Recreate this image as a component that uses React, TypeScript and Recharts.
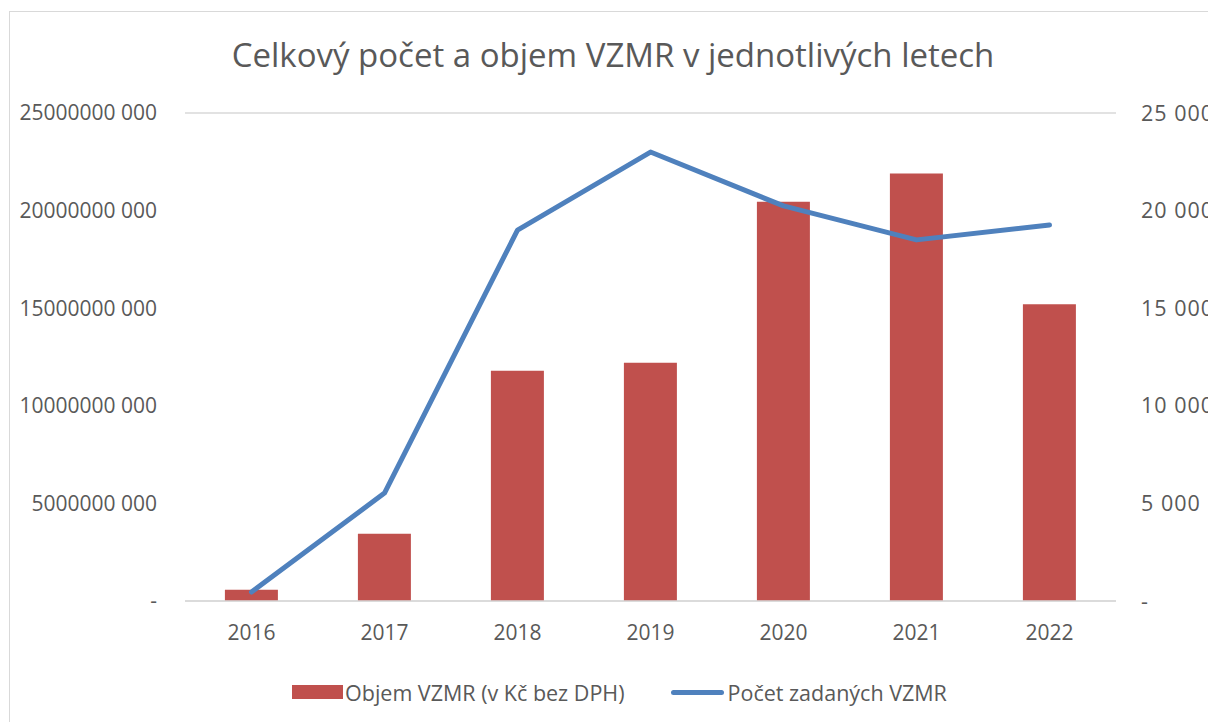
import {
  Bar,
  CartesianGrid,
  ComposedChart,
  Legend,
  Line,
  XAxis,
  YAxis,
} from 'recharts';

const years = ['2016', '2017', '2018', '2019', '2020', '2021', '2022'];
// objem VZMR v Kč bez DPH
const objem = [
  580000000, 3450000000, 11800000000, 12200000000, 20450000000, 21900000000,
  15200000000,
];
// počet zadaných VZMR
const pocet = [460, 5530, 19000, 23000, 20240, 18500, 19260];

const leftTicks = [0, 5000000000, 10000000000, 15000000000, 20000000000, 25000000000];
const rightTicks = [0, 5000, 10000, 15000, 20000, 25000];

const data = years.map((year, i) => ({
  year,
  objem: objem[i],
  pocet: pocet[i],
}));

const FONT = '"Open Sans", sans-serif';
const TEXT = '#595959';
const GRID = '#D9D9D9';
const RED = '#C0504D';
const BLUE = '#4F81BD';

const fmtLeft = (v: number) => (v === 0 ? '-' : `${Math.round(v / 1000)} 000`);
const fmtRight = (v: number) =>
  v === 0 ? '-' : `${Math.floor(v / 1000)} ${String(v % 1000).padStart(3, '0')}`;

const LegendContent = (props: any) => {
  const items = props.payload || [];
  return (
    <div
      style={{
        display: 'flex',
        alignItems: 'center',
        marginLeft: 292,
        fontFamily: FONT,
        fontSize: 21.5,
        color: TEXT,
        height: 24,
        whiteSpace: 'nowrap',
      }}
    >
      {items.map((it: any) => (
        <div
          key={it.value}
          style={{ display: 'flex', alignItems: 'center', marginRight: 46 }}
        >
          {it.type === 'line' ? (
            <span
              style={{
                display: 'inline-block',
                width: 53,
                height: 5,
                borderRadius: 3,
                background: BLUE,
                marginRight: 4,
              }}
            />
          ) : (
            <span
              style={{
                display: 'inline-block',
                width: 51,
                height: 14,
                background: RED,
                marginRight: 2,
              }}
            />
          )}
          <span>{it.value}</span>
        </div>
      ))}
    </div>
  );
};

export default function App() {
  return (
    <div
      style={{
        position: 'fixed',
        left: 0,
        top: 0,
        width: 1208,
        height: 722,
        overflow: 'hidden',
        background: '#fff',
      }}
    >
      <div
        style={{
          position: 'absolute',
          left: 9,
          top: 11,
          width: 1300,
          height: 800,
          border: `1px solid ${GRID}`,
        }}
      />
      <div
        style={{
          position: 'absolute',
          left: 0,
          width: 1226,
          top: 38,
          textAlign: 'center',
          fontFamily: FONT,
          fontSize: 33,
          lineHeight: '33px',
          color: TEXT,
          whiteSpace: 'nowrap',
        }}
      >
        Celkový počet a objem VZMR v jednotlivých letech
      </div>
      <div style={{ position: 'absolute', left: 0, top: 0 }}>
        <ComposedChart
          width={1208}
          height={722}
          data={data}
          margin={{ top: 113, right: 0, left: 0, bottom: 61 }}
          barCategoryGap="30%"
        >
          <CartesianGrid vertical={false} stroke={GRID} strokeWidth={1.3} />
          <XAxis
            dataKey="year"
            height={60}
            tickLine={false}
            axisLine={{ stroke: GRID, strokeWidth: 1.5 }}
            tickSize={0}
            tickMargin={24}
            tick={{ fill: TEXT, fontSize: 21, fontFamily: FONT }}
          />
          <YAxis
            yAxisId="left"
            orientation="left"
            width={185}
            domain={[0, 25000000000]}
            ticks={leftTicks}
            tickFormatter={fmtLeft}
            axisLine={false}
            tickLine={false}
            tickSize={0}
            tickMargin={28}
            tick={{ fill: TEXT, fontSize: 21, fontFamily: FONT }}
          />
          <YAxis
            yAxisId="right"
            orientation="right"
            width={92}
            domain={[0, 25000]}
            ticks={rightTicks}
            tickFormatter={fmtRight}
            axisLine={false}
            tickLine={false}
            tickSize={0}
            tickMargin={25}
            tick={{
              fill: TEXT,
              fontSize: 21.5,
              fontFamily: FONT,
              textAnchor: 'start',
              letterSpacing: 1,
            }}
          />
          <Bar
            yAxisId="left"
            dataKey="objem"
            name="Objem VZMR (v Kč bez DPH)"
            fill={RED}
            isAnimationActive={false}
          />
          <Line
            yAxisId="right"
            dataKey="pocet"
            name="Počet zadaných VZMR"
            type="linear"
            stroke={BLUE}
            strokeWidth={5}
            strokeLinecap="round"
            strokeLinejoin="round"
            dot={false}
            activeDot={false}
            isAnimationActive={false}
          />
          <Legend
            verticalAlign="middle"
            content={LegendContent}
            wrapperStyle={{ top: 680, left: 0, width: 1208 }}
          />
        </ComposedChart>
      </div>
    </div>
  );
}
